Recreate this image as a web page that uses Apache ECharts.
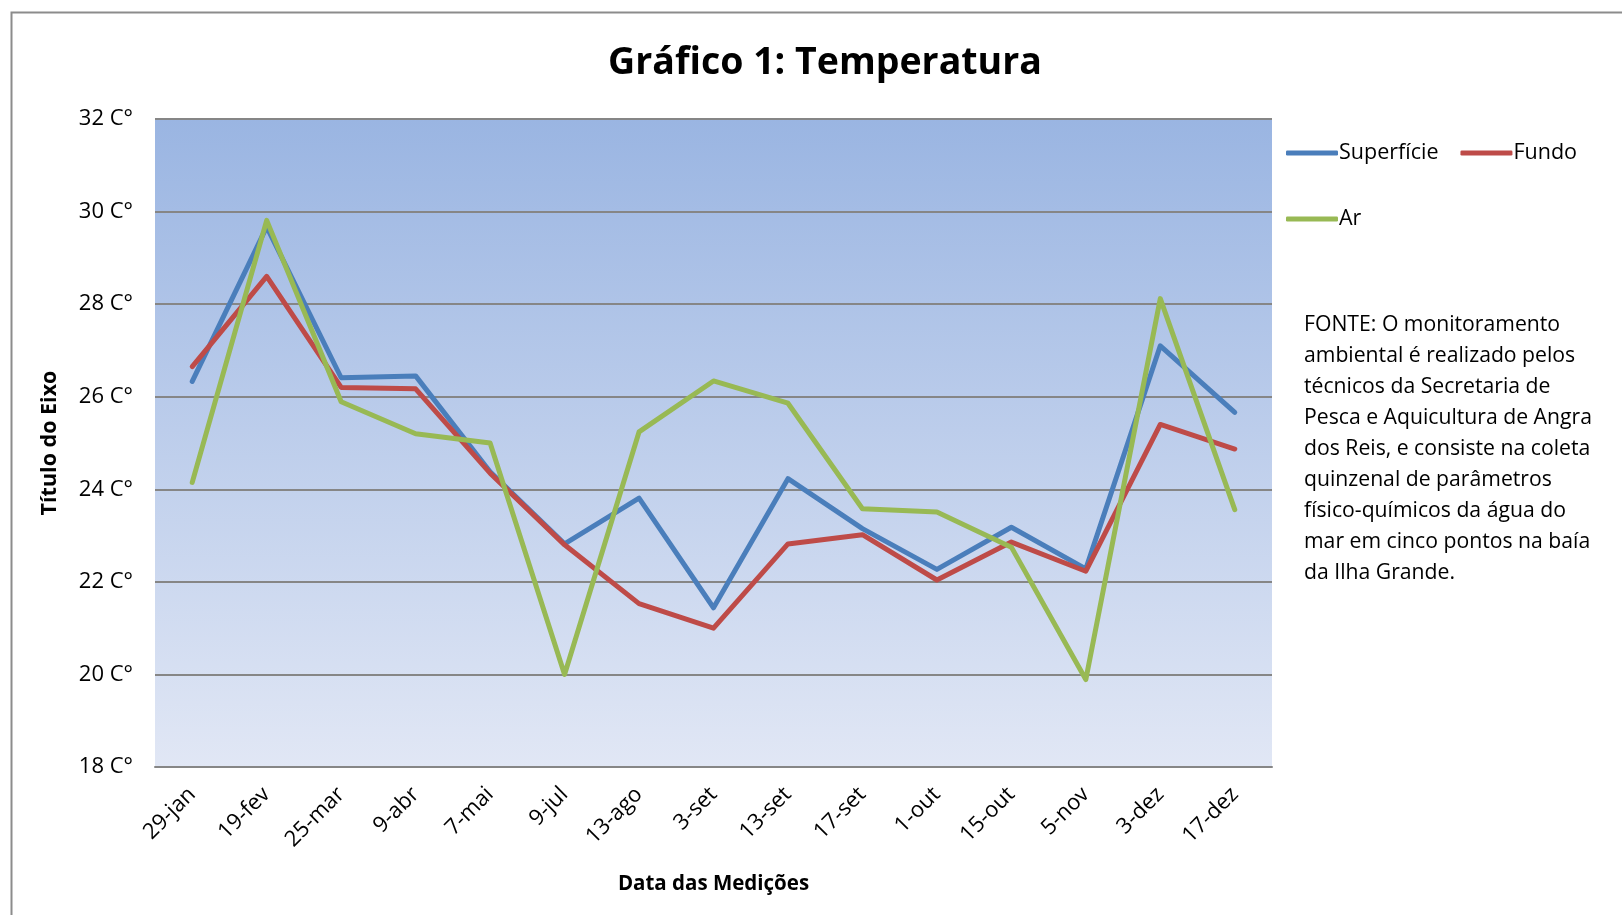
<!DOCTYPE html>
<html>
<head>
<meta charset="UTF-8">
<script src="https://cdn.jsdelivr.net/npm/echarts@6/dist/echarts.min.js"></script>
<style type="text/css">
html, body { margin: 0; padding: 0; background: #fff; }
#main { width: 1622px; height: 915px; }
</style>
</head>
<body>
<div id="main"></div>
<script type="text/javascript">
// datas das medições
var datas = ['29-jan', '19-fev', '25-mar', '9-abr', '7-mai', '9-jul', '13-ago', '3-set',
	'13-set', '17-set', '1-out', '15-out', '5-nov', '3-dez', '17-dez'];
// temperaturas (°C)
var superficie = [26.33, 29.67, 26.41, 26.45, 24.38, 22.82, 23.81, 21.44, 24.23, 23.15, 22.27, 23.18, 22.28, 27.10, 25.66];
var fundo = [26.65, 28.60, 26.20, 26.17, 24.35, 22.80, 21.53, 21.00, 22.82, 23.02, 22.04, 22.86, 22.23, 25.40, 24.87];
var ar = [24.15, 29.81, 25.89, 25.20, 25.00, 20.00, 25.24, 26.34, 25.86, 23.58, 23.51, 22.75, 19.89, 28.12, 23.56];
var eixoY = [18, 32, 2];

var fonte = 'FONTE: O monitoramento\nambiental é realizado pelos\ntécnicos da Secretaria de\nPesca e Aquicultura de Angra\ndos Reis, e consiste na coleta\nquinzenal de parâmetros\nfísico-químicos da água do\nmar em cinco pontos na baía\nda Ilha Grande.';

var fonteTxt = "'Open Sans', 'Noto Sans', sans-serif";
var cores = ['#4a7ebb', '#be4b48', '#98b954'];

var myChart = echarts.init(document.getElementById('main'));

function serie(nome, dados) {
	return {
		name: nome,
		type: 'line',
		data: dados,
		showSymbol: false,
		smooth: false,
		lineStyle: { width: 5, cap: 'round', join: 'round' }
	};
}

var option = {
	animation: false,
	color: cores,
	textStyle: { fontFamily: fonteTxt, color: '#000' },
	title: {
		text: 'Gráfico 1: Temperatura',
		left: 820,
		textAlign: 'center',
		top: 39,
		textStyle: { fontSize: 37.5, fontWeight: 'bold', color: '#000', fontFamily: fonteTxt }
	},
	legend: [{
		data: ['Superfície', 'Fundo'],
		left: 1281,
		top: 137,
		itemWidth: 52,
		itemHeight: 5,
		itemGap: 22,
		icon: 'roundRect',
		textStyle: { fontSize: 21.5, color: '#000', padding: [0, 0, 0, -4] }
	}, {
		data: ['Ar'],
		left: 1281,
		top: 203,
		itemWidth: 52,
		itemHeight: 5,
		icon: 'roundRect',
		textStyle: { fontSize: 21.5, color: '#000', padding: [0, 0, 0, -4] }
	}],
	grid: {
		left: 155,
		right: 350,
		top: 119,
		bottom: 148,
		show: true,
		borderWidth: 0,
		backgroundColor: {
			type: 'linear', x: 0, y: 0, x2: 0, y2: 1,
			colorStops: [
				{ offset: 0, color: '#9ab5e2' },
				{ offset: 1, color: '#e1e7f5' }
			]
		}
	},
	xAxis: {
		type: 'category',
		data: datas,
		boundaryGap: true,
		name: 'Data das Medições',
		nameLocation: 'middle',
		nameGap: 107,
		nameTextStyle: { fontSize: 20.5, fontWeight: 'bold', color: '#000' },
		axisLine: { lineStyle: { color: '#868686', width: 2 } },
		axisTick: { show: false },
		axisLabel: { rotate: 45, fontSize: 22, color: '#000', margin: 24, interval: 0 }
	},
	yAxis: {
		type: 'value',
		min: eixoY[0],
		max: eixoY[1],
		interval: eixoY[2],
		name: 'Título do Eixo',
		nameLocation: 'middle',
		nameGap: 94,
		nameRotate: 90,
		nameTextStyle: { fontSize: 21.5, fontWeight: 'bold', color: '#000' },
		axisLine: { show: false },
		axisTick: { show: false },
		axisLabel: { fontSize: 22, color: '#000', margin: 22, formatter: function (v) { return v + ' C°'; } },
		splitLine: { lineStyle: { color: '#868686', width: 2 } }
	},
	graphic: [{
		type: 'rect',
		left: 9,
		top: 10,
		shape: { width: 1700, height: 1000 },
		style: { fill: null, stroke: '#8c8c8c', lineWidth: 2 },
		silent: true
	}, {
		type: 'text',
		left: 1304,
		top: 309,
		style: {
			text: fonte,
			fontSize: 21.2,
			lineHeight: 31,
			fill: '#000',
			fontFamily: fonteTxt
		}
	}],
	series: [
		serie('Superfície', superficie),
		serie('Fundo', fundo),
		serie('Ar', ar)
	]
};

myChart.setOption(option);
</script>
</body>
</html>
